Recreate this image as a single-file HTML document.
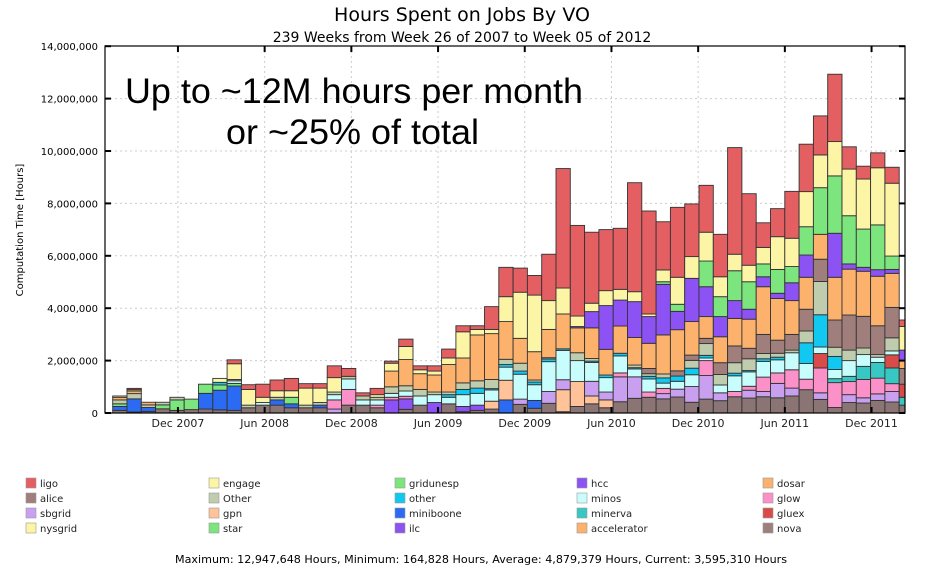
<!DOCTYPE html>
<html><head><meta charset="utf-8"><style>
body{margin:0;background:#fff;}
svg{display:block;font-family:"DejaVu Sans","Liberation Sans",sans-serif;}
</style></head><body>
<svg id="chart" width="925" height="572" viewBox="0 0 925 572">
<rect width="925" height="572" fill="#fff"/>
<text x="462" y="21" font-size="19" text-anchor="middle">Hours Spent on Jobs By VO</text>
<text x="462" y="42" font-size="14" text-anchor="middle">239 Weeks from Week 26 of 2007 to Week 05 of 2012</text>
<g id="grid"></g>
<g id="bars"></g>
<rect x="105" y="46" width="800" height="367" fill="none" stroke="#000" stroke-width="1.2"/>
<g id="axes"></g>
<text transform="translate(23,230) rotate(-90)" font-size="10" text-anchor="middle">Computation Time [Hours]</text>
<text x="125" y="103" font-size="35" font-family="Liberation Sans, sans-serif" textLength="458" lengthAdjust="spacingAndGlyphs">Up to ~12M hours per month</text>
<text x="226" y="144" font-size="35" font-family="Liberation Sans, sans-serif" textLength="253" lengthAdjust="spacingAndGlyphs">or ~25% of total</text>
<g id="legend"></g>
<text x="481" y="563" font-size="11" text-anchor="middle" textLength="612" lengthAdjust="spacingAndGlyphs">Maximum: 12,947,648 Hours, Minimum: 164,828 Hours, Average: 4,879,379 Hours, Current: 3,595,310 Hours</text>
</svg>
<script>
const yTicks=[0,2,4,6,8,10,12,14];
const yTickLabels=["0","2,000,000","4,000,000","6,000,000","8,000,000","10,000,000","12,000,000","14,000,000"];
const xTickMonths=[5,11,17,23,29,35,41,47,53];
const xTickLabels=["Dec 2007","Jun 2008","Dec 2008","Jun 2009","Dec 2009","Jun 2010","Dec 2010","Jun 2011","Dec 2011"];
const seriesNames=["misc","ilc","miniboone","star","gpn","sbgrid","glow","minerva","gluex","minos","other","Other","alice","dosar","hcc","gridunesp","engage","ligo"];
const seriesColors=["#8a7474","#8d52f4","#2b6af2","#7ce57e","#ffc299","#c9a0ef","#fb91c8","#38c8c3","#d94b48","#c7fefd","#10c8f0","#bfccad","#a07e7b","#fcb26c","#8d52f4","#7ce57e","#fdf5a6","#e45f61"];
const misc=[.1,.04,.06,.16,.1,.13,.15,.12,.1,.2, .3,.3,.2,.2,.2,0,.3,.3,.2,0, .14,.3,0,.35,.05,.1,.15,0,.33,.18, .37,.05,.25,.35,.2,.43,.56,.6,.54,.61, .41,.53,.47,.62,.57,.62,.58,.65,.89,.52, .21,.4,.38,.48,.42,.3];
const ilc=[0,0,0,0,0,0,0,0,0,0, 0,0,0,0,0,0,0,0,0,.5, .4,0,.4,0,.2,.2,0,0,0,0, 0,0,0,0,0,0,0,0,0,0, 0,0,0,0,0,0,0,0,0,0, 0,0,0,0,0,0];
const miniboone=[.15,.5,.15,0,0,0,.6,.75,.93,0, 0,.2,.15,0,.1,0,0,0,0,0, 0,0,0,0,0,0,0,.5,0,.3, 0,0,0,0,0,0,0,0,0,0, 0,0,0,0,0,0,0,0,0,0, 0,0,0,0,0,0];
const star=[.1,0,0,.15,.4,.4,.35,.2,.1,0, 0,0,.25,0,0,0,0,0,0,0, 0,0,0,0,0,0,0,0,0,0, 0,0,0,0,0,0,0,0,0,0, 0,0,0,0,0,0,0,0,0,0, 0,0,0,0,0,0];
const gpn=[0,0,0,0,0,0,0,0,0,0, 0,0,0,0,0,0,0,0,0,0, 0,0,0,0,0,0,.3,.75,0,0, 0,.84,.95,.3,.3,0,0,0,0,0, 0,0,0,0,0,0,0,0,0,0, 0,0,0,0,0,0];
const sbgrid=[0,0,0,0,0,0,0,0,0,0, 0,0,0,0,0,.15,0,0,0,0, 0,0,0,0,0,0,0,0,.2,0, .45,.38,0,.56,.3,.95,.82,0,.2,.3, .6,.9,.3,0,.3,.2,.55,.3,0,.25, 0,.3,.2,.25,.4,0];
const glow=[0,0,0,0,0,0,0,0,0,0, 0,0,0,0,0,.35,.6,0,.1,.1, .1,0,0,0,0,0,0,0,0,0, 0,0,0,0,0,.15,0,.2,.2,0, 0,.57,0,.2,.15,.55,.4,.7,.4,.95, .95,.5,.7,.6,.3,0];
const minerva=[0,0,0,0,0,0,0,0,0,0, 0,0,0,0,0,0,0,0,0,0, 0,0,0,0,0,0,0,0,0,0, 0,0,0,0,0,0,0,0,0,0, 0,0,0,0,0,0,0,0,0,0, .15,.2,.5,.6,.6,.3];
const gluex=[0,0,0,0,0,0,0,0,0,0, 0,0,0,0,0,0,0,0,0,0, 0,0,0,0,0,0,0,0,0,0, 0,0,0,0,0,0,0,0,0,0, 0,0,0,0,0,0,0,0,0,.55, 0,0,0,0,.5,.5];
const minos=[0,0,0,0,0,0,0,0,.1,0, .1,0,0,0,0,.2,.4,.2,.2,.15, .2,.35,.3,.25,.45,.45,.43,.5,.95,.6, 1.14,1.12,.8,.72,.55,.65,.3,.5,.2,.3, .45,.1,.3,.6,.55,.6,.5,.65,.6,.25, .35,.6,.45,.2,.15,0];
const otherVO=[0,0,0,0,0,0,0,.1,0,0, 0,0,0,0,0,0,0,0,0,0, 0,0,0,.1,.2,.2,.05,.1,.12,.1, .1,.06,0,.05,.1,.1,.05,.1,.2,.2, .25,.1,0,.1,.05,.1,.1,0,.79,1.23, .5,0,0,0,0,0];
const OtherVO=[.15,.2,.1,.1,.1,0,0,0,.05,.1, 0,.1,0,.1,.1,.1,.1,.15,.1,.25, .2,.25,.1,.1,.25,.28,.35,.2,.3,.08, .05,0,.3,.1,0,0,.1,.1,.15,0, .3,.45,.4,.4,.45,.2,.15,.1,.45,1.27, .35,.4,.25,.1,.5,0];
const alice=[0,0,0,0,0,0,0,0,0,0, 0,0,0,0,0,0,0,0,0,0, 0,0,0,0,0,0,0,0,0,0, 0,0,0,0,0,0,0,.2,0,.2, .2,.2,.45,.64,.4,.73,.5,.6,.83,.85, 1.04,1.34,1.21,1.1,1.16,.6];
const dosar=[.1,.1,.1,0,0,0,0,0,0,0, 0,0,0,0,0,0,0,0,0,.6, 1.0,.6,.65,1.05,.95,1.75,1.75,1.44,.95,1.08, 1.08,1.33,.95,1.17,.98,1.04,1.05,.96,1.49,1.57, 1.28,.83,.99,1.05,1.11,1.82,1.59,1.29,1.22,.95, 1.63,1.75,1.72,1.89,1.3,.3];
const hcc=[0,0,0,0,0,0,0,0,0,0, 0,0,0,0,0,0,0,0,0,0, 0,0,0,0,0,0,0,0,0,0, 0,0,.05,.62,1.67,.99,1.37,1.02,1.93,.7, 1.65,1.14,.77,.68,.38,.38,.2,.68,.85,0, 1.68,.2,.15,.25,.15,.4];
const gridunesp=[0,0,0,0,0,0,0,0,0,0, 0,0,0,0,0,0,0,0,0,0, 0,0,0,0,0,0,0,0,0,0, 0,0,0,0,0,0,0,0,.1,.27, 0,.98,.76,1.14,1.05,.49,.91,.62,1.08,1.78, 2.19,1.84,1.46,1.71,.51,0];
const engage=[.05,.05,0,0,0,0,0,.15,.6,.6, .2,.25,.25,.65,.55,.55,0,0,.1,.3, .5,.15,.15,.25,1.0,.21,.16,.95,1.76,2.16, 1.1,.99,.4,.32,.57,.41,.38,.1,.45,1.03, .83,1.1,.76,.63,.63,.63,1.25,1.08,1.34,1.25, 1.31,1.78,1.91,2.18,2.78,.9];
const ligo=[0,.05,0,0,0,0,0,0,.15,.18, .5,.41,.47,.17,.17,.45,.3,.12,.24,.08, .28,.15,.2,.34,.23,.14,.87,1.12,.92,.75, 1.77,4.56,3.46,2.71,2.33,2.33,4.16,3.93,1.84,2.67, 2.01,1.79,1.62,4.07,2.73,.94,1.07,1.79,1.81,1.49, 2.57,.85,.49,.57,.61,.25];
const seriesData=[misc,ilc,miniboone,star,gpn,sbgrid,glow,minerva,gluex,minos,otherVO,OtherVO,alice,dosar,hcc,gridunesp,engage,ligo];
const legendNames=["ligo","alice","sbgrid","nysgrid","engage","Other","gpn","star","gridunesp","other","miniboone","ilc","hcc","minos","minerva","accelerator","dosar","glow","gluex","nova"];
const legendColors=["#e45f61","#a07e7b","#c9a0ef","#fdf5a6","#fdf5a6","#bfccad","#ffc299","#7ce57e","#7ce57e","#10c8f0","#2b6af2","#8d52f4","#8d52f4","#c7fefd","#38c8c3","#fcb26c","#fcb26c","#fb91c8","#d94b48","#a07e7b"];

const NS="http://www.w3.org/2000/svg";
const X0=112.7,BW=14.3,Y0=413,PPM=26.2;
function xScale(i){return X0+i*BW;}
function yScale(v){return Y0-v*PPM;}
function tickX(m){return 105.7+m*14.45;}
function mk(tag,attrs,parent){const e=document.createElementNS(NS,tag);for(const k in attrs)e.setAttribute(k,attrs[k]);parent.appendChild(e);return e;}

const grid=document.getElementById('grid');
const axes=document.getElementById('axes');
yTicks.forEach((t,i)=>{
  const y=yScale(t);
  if(t>0&&t<14){const l=mk('line',{x1:105,x2:905,y1:y,y2:y,stroke:'#ccc','stroke-dasharray':'2,3'},grid);
    
    }
  const tk=mk('line',{x1:105,x2:111,y1:y,y2:y,stroke:'#000','stroke-width':2},axes);
  
  
  const tr=mk('line',{x1:899,x2:905,y1:y,y2:y,stroke:'#000','stroke-width':2},axes);
  
  
  const tx=mk('text',{x:98,y:y+4,'font-size':10,'text-anchor':'end'},axes);
  tx.textContent=yTickLabels[i];
  
  
});
xTickMonths.forEach((m,i)=>{
  const x=tickX(m);
  const l=mk('line',{x1:x,x2:x,y1:46,y2:413,stroke:'#ccc','stroke-dasharray':'2,3'},grid);
  
  
  const tk=mk('line',{x1:x,x2:x,y1:407,y2:413,stroke:'#000','stroke-width':2},axes);
  
  
  const tt=mk('line',{x1:x,x2:x,y1:46,y2:52,stroke:'#000','stroke-width':2},axes);
  
  
  const tx=mk('text',{x:x,y:427,'font-size':11,'text-anchor':'middle',fill:'#222'},axes);
  tx.textContent=xTickLabels[i];
  
  
});

const bars=document.getElementById('bars');
const n=ligo.length;
for(let i=0;i<n;i++){
  let acc=0;
  const w=(i===n-1)?(905-xScale(i)):BW;
  seriesData.forEach((arr,s)=>{
    const v=arr[i];
    if(!v)return;
    const r=mk('rect',{x:xScale(i),y:yScale(acc+v),width:w,height:v*PPM,fill:seriesColors[s],stroke:'#333','stroke-width':0.9},bars);
    
    
    acc+=v;
  });
}

const legend=document.getElementById('legend');
const colX=[26,209,395,577,763];
const rowY=[478,493,508,523];
legendNames.forEach((nm,k)=>{
  const c=Math.floor(k/4),r=k%4;
  const g=mk('g',{},legend);
  
  
  mk('rect',{x:colX[c],y:rowY[r],width:10,height:10,fill:legendColors[k],stroke:'#999','stroke-width':0.6},g);
  const t=mk('text',{x:colX[c]+14,y:rowY[r]+9,'font-size':10,fill:'#222'},g);
  t.textContent=nm;
});
</script>
</body></html>
